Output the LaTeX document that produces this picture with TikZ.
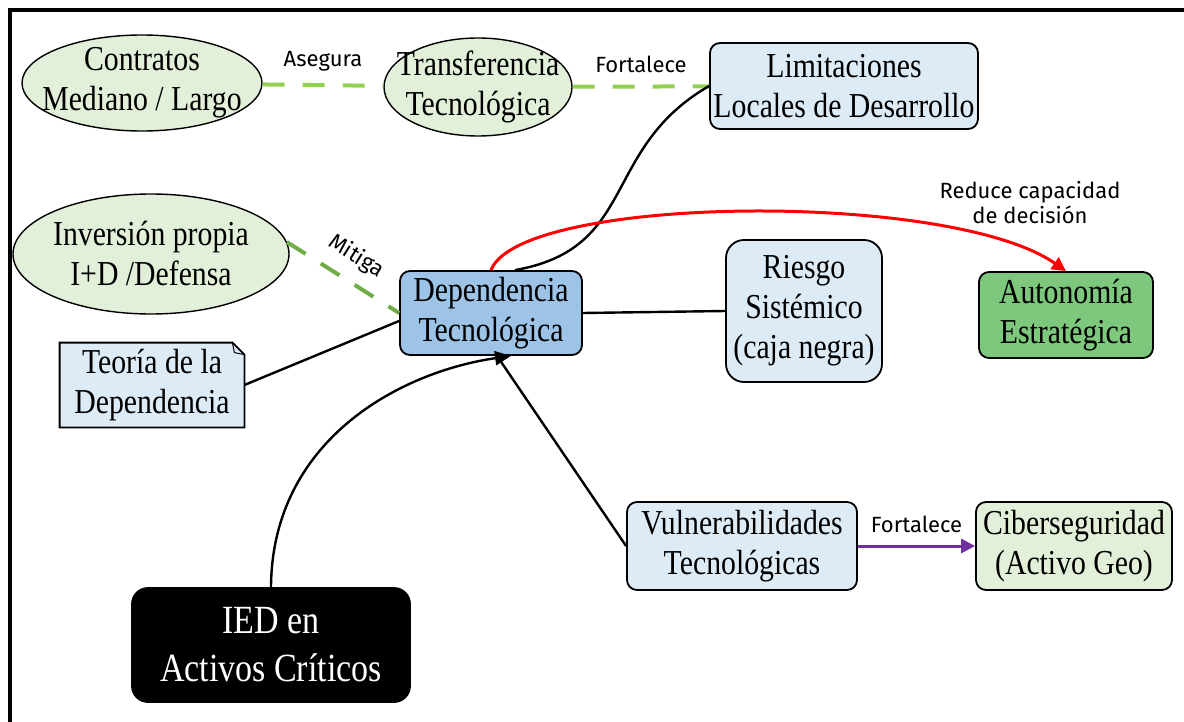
\documentclass[tikz,border=0pt]{standalone}
\usepackage{fontspec}
\setmainfont{Liberation Serif}[FakeStretch=0.85]
\newfontfamily\etqfont{Fira Sans}
\usepackage{tikz}
\usetikzlibrary{arrows.meta,positioning,shapes.geometric}
\definecolor{verdeclaro}{HTML}{E2EFD9}
\definecolor{azulclaro}{HTML}{DDEBF7}
\definecolor{azulmedio}{HTML}{9DC3E6}
\definecolor{verdemedio}{HTML}{7DC87D}
\definecolor{verdelinea}{HTML}{92D050}
\definecolor{verdeosc}{HTML}{70AD47}
\definecolor{morado}{HTML}{7030A0}
\tikzset{
  idea/.style={ellipse,draw,line width=0.7pt,fill=verdeclaro,align=center,inner xsep=-8pt,inner ysep=-2pt,font=\fontsize{17.5}{20}\selectfont},
  caja/.style={draw,line width=0.9pt,rounded corners=5pt,fill=azulclaro,align=center,inner sep=1pt,font=\fontsize{17.5}{20}\selectfont},
  enlace/.style={verdelinea,line width=2pt,dash pattern=on 11pt off 9pt},
  etq/.style={text=black,font=\etqfont\fontsize{11}{12.5}\selectfont,inner sep=1pt},
  flecha/.style={line width=1.2pt},
}
\begin{document}
\begin{tikzpicture}[x=0.5pt,y=-0.5pt]
\useasboundingbox[fill=white] (0,0) rectangle (1184,722);
\draw[line width=2pt] (10,722) -- (10,10) -- (1184,10);

\node[idea,minimum width=120pt,minimum height=48pt] (contratos) at (142,83) {Contratos\\Mediano / Largo};
\node[idea,minimum width=94pt,minimum height=49pt] (transf) at (478,87) {Transferencia\\Tecnológica};
\node[caja,minimum width=134pt,minimum height=43pt] (limit) at (844,86) {Limitaciones\\Locales de Desarrollo};
\node[idea,minimum width=138pt,minimum height=60pt] (inversion) at (151,254) {Inversión propia\\I+D /Defensa};
\node[caja,fill=azulmedio,minimum width=91pt,minimum height=42pt] (dep) at (491,313) {Dependencia\\Tecnológica};
\node[fill=azulclaro,align=center,inner sep=1pt,font=\fontsize{17.5}{20}\selectfont,minimum width=92pt,minimum height=42pt] (teoria) at (152,385) {Teoría de la\\Dependencia};
\fill[white] ([xshift=-6pt]teoria.north east) -- (teoria.north east) -- ([yshift=-6pt]teoria.north east) -- cycle;
\draw[line width=0.9pt] (teoria.south west) -- (teoria.north west) -- ([xshift=-6pt]teoria.north east) -- ([yshift=-6pt]teoria.north east) -- (teoria.south east) -- cycle;
\draw[line width=0.5pt] ([xshift=-6pt]teoria.north east) -- ([xshift=-5pt,yshift=-5pt]teoria.north east) -- ([yshift=-6pt]teoria.north east);
\node[caja,rounded corners=9pt,minimum width=78pt,minimum height=71pt] (riesgo) at (804,311) {Riesgo\\Sistémico\\(caja negra)};
\node[caja,fill=verdemedio,minimum width=87pt,minimum height=43pt] (autonomia) at (1066,315) {Autonomía\\Estratégica};
\node[caja,fill=black,text=white,rounded corners=8pt,font=\fontsize{20}{24}\selectfont,minimum width=139pt,minimum height=57pt] (ied) at (271,645) {IED en\\Activos Críticos};
\node[caja,minimum width=115pt,minimum height=44pt] (vuln) at (742,546) {Vulnerabilidades\\Tecnológicas};
\node[caja,fill=verdeclaro,minimum width=98pt,minimum height=44pt] (ciber) at (1074,546) {Ciberseguridad\\(Activo Geo)};

\draw[enlace] (contratos) -- (transf) node[etq,midway,above=5pt] (asegura) {Asegura};
\draw[enlace] (transf) -- (limit) node[etq,midway,above=5pt] (fortalece1) {Fortalece};
\draw[enlace,verdeosc] (inversion.5) -- (dep.west) node[etq,midway,sloped,above=5pt] (mitiga) {Mitiga};
\draw[flecha] (teoria.east) -- ([yshift=-4pt]dep.west);
\draw[flecha] (dep.east) -- (riesgo.west);
\draw[flecha] ([xshift=12pt]dep.north) to[out=10,in=210,looseness=1.2] (limit.west);
\draw[red,line width=1.5pt,-{Triangle[length=7pt,width=7pt]}] (dep.north) .. controls (520,195) and (950,190) .. (autonomia.north);
\node[etq,align=center] (reduce) at (1030,203) {Reduce capacidad\\de decisión};
\draw[flecha,-{Triangle[length=8pt,width=7pt]}] (ied.north) .. controls (272,440) and (400,372) .. ([xshift=10pt]dep.south);
\draw[flecha] ([xshift=3pt]dep.south) -- (vuln.west);
\draw[morado,line width=1.5pt,-{Triangle[length=7pt,width=7pt]}] (vuln) -- (ciber) node[etq,midway,above=5pt] (fortalece2) {Fortalece};
\end{tikzpicture}
\end{document}
